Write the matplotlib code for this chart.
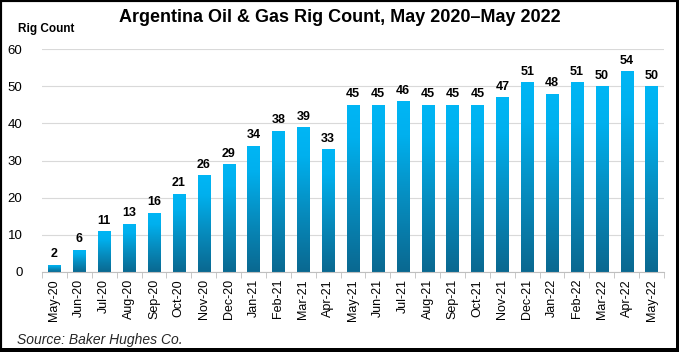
import numpy as np
import matplotlib
matplotlib.use("Agg")
import matplotlib.pyplot as plt
from matplotlib.colors import LinearSegmentedColormap
from matplotlib.patches import Rectangle

plt.rcParams['font.family'] = ['Liberation Sans', 'DejaVu Sans']

# data
months = ['May-20', 'Jun-20', 'Jul-20', 'Aug-20', 'Sep-20', 'Oct-20', 'Nov-20',
          'Dec-20', 'Jan-21', 'Feb-21', 'Mar-21', 'Apr-21', 'May-21', 'Jun-21',
          'Jul-21', 'Aug-21', 'Sep-21', 'Oct-21', 'Nov-21', 'Dec-21', 'Jan-22',
          'Feb-22', 'Mar-22', 'Apr-22', 'May-22']
rigs = [2, 6, 11, 13, 16, 21, 26, 29, 34, 38, 39, 33, 45, 45, 46, 45, 45, 45,
        47, 51, 48, 51, 50, 54, 50]

fig = plt.figure(figsize=(6.79, 3.52), dpi=100)
ax = fig.add_axes([42 / 679, 1 - 272 / 352, 622 / 679, 223 / 352])

# bar fill: bright cyan at the top, deep blue at the base
cmap = LinearSegmentedColormap.from_list(
    'grad', [(0, '#0a6890'), (0.45, '#068fc2'), (0.8, '#00b0ee'), (1, '#00b6f5')])
grad = np.linspace(0, 1, 256).reshape(-1, 1)

x = np.arange(len(months))
bw = 0.49
bars = ax.bar(x, rigs, width=bw, color='none', edgecolor='none', zorder=2)
for b, v in zip(bars, rigs):
    x0 = b.get_x()
    im = ax.imshow(grad, cmap=cmap, origin='lower', aspect='auto',
                   extent=[x0, x0 + bw, 0, v], zorder=2)
    im.set_clip_path(Rectangle((x0, 0), bw, v, transform=ax.transData))
    ax.text(b.get_x() + bw / 2, v + 1.2, str(v), ha='center', va='bottom',
            fontsize=9, fontweight='bold', color='black')

ax.set_xlim(-0.5, len(months) - 0.5)
ax.set_ylim(0, 60)
ax.set_yticks(range(0, 61, 10))
ax.yaxis.grid(True, color='#d9d9d9', linewidth=0.8)
ax.set_axisbelow(True)
ax.tick_params(axis='y', length=0, labelsize=9.5, pad=14)

ax.set_xticks(x)
ax.set_xticklabels(months, rotation=90, fontsize=9)
ax.set_xticks(np.arange(-0.5, len(months), 1), minor=True)
ax.tick_params(axis='x', which='major', length=0, pad=5)
ax.tick_params(axis='x', which='minor', length=4, color='#bfbfbf')

for s in ['top', 'right', 'left']:
    ax.spines[s].set_visible(False)
ax.spines['bottom'].set_color('#bfbfbf')

fig.text(0.5, 1 - 17 / 352, 'Argentina Oil & Gas Rig Count, May 2020\u2013May 2022',
         ha='center', va='center', fontsize=13, fontweight='bold')
fig.text(18 / 679, 1 - 29 / 352, 'Rig Count', ha='left', va='center',
         fontsize=8.5, fontweight='bold')
fig.text(17 / 679, 1 - 340 / 352, 'Source: Baker Hughes Co.', ha='left',
         va='center', fontsize=10, style='italic', color='#262626')

# frame with shadow
fig.add_artist(Rectangle((0, 0), 1, 1, transform=fig.transFigure, fill=False,
                         edgecolor='black', linewidth=3))
fig.add_artist(Rectangle((0.995, 0), 0.005, 1, transform=fig.transFigure,
                         color='black', linewidth=0))
fig.add_artist(Rectangle((0, 0), 1, 0.012, transform=fig.transFigure,
                         color='black', linewidth=0))

fig.savefig('out.png', dpi=100)
